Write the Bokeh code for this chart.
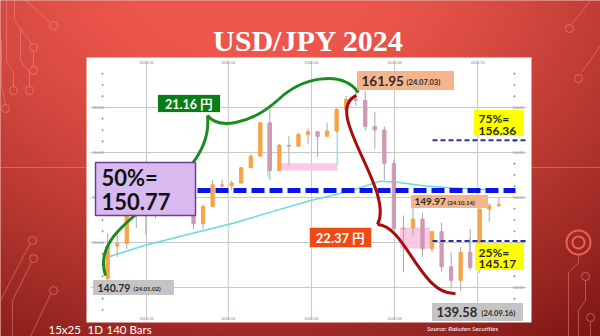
import numpy as np
import pandas as pd
from bokeh.plotting import figure
from bokeh.models import Range1d
from bokeh.core.properties import value
from bokeh.embed import file_html
from bokeh.resources import INLINE

# ---------------- data (weekly USD/JPY 2024) ----------------
WEEK_STARTS = pd.date_range("2024-01-01", periods=42, freq="7D")
OPEN = [141.0, 144.6, 144.9, 148.1, 148.1, 148.4, 149.3, 150.2, 150.5, 150.1, 147.1, 149.0, 151.4, 151.3,
        151.6, 153.3, 154.6, 158.3, 153.0, 155.8, 155.7, 157.0, 157.3, 156.8, 157.4, 159.8, 160.9, 160.8,
        157.9, 157.5, 153.8, 146.5, 146.6, 147.6, 144.3, 146.2, 142.3, 140.8, 143.9, 142.2, 148.7, 149.1]
HIGH = [145.98, 146.4, 148.8, 148.7, 148.6, 149.6, 150.9, 150.8, 150.8, 150.6, 149.2, 151.9, 151.97, 151.9,
        153.4, 154.8, 158.4, 160.2, 155.95, 156.8, 157.2, 157.7, 157.3, 158.3, 159.9, 161.3, 161.95, 161.8,
        159.5, 157.9, 154.2, 148.0, 149.4, 148.3, 146.3, 147.2, 143.9, 144.5, 146.5, 149.0, 149.4, 149.97]
LOW = [140.81, 143.4, 144.3, 146.6, 145.9, 147.6, 149.2, 149.6, 149.2, 146.5, 146.5, 148.9, 150.8, 150.8,
       151.6, 153.6, 154.5, 151.9, 152.9, 153.6, 155.6, 155.9, 154.5, 156.8, 157.2, 159.2, 160.2, 157.4,
       155.4, 151.9, 146.4, 141.7, 145.8, 143.4, 143.9, 141.8, 139.9, 139.58, 141.9, 141.6, 147.3, 148.9]
CLOSE = [144.6, 144.9, 148.1, 148.1, 148.4, 149.3, 150.2, 150.5, 150.1, 147.1, 149.0, 151.4, 151.3, 151.6,
         153.3, 154.6, 158.3, 153.0, 155.8, 155.7, 157.0, 157.3, 156.8, 157.4, 159.8, 160.9, 160.8, 157.9,
         157.5, 153.8, 146.5, 146.6, 147.6, 144.3, 146.2, 142.3, 140.8, 143.9, 142.2, 148.7, 149.1, 149.2]

MA_DATES = ["2024-01-02", "2024-01-31", "2024-02-29", "2024-04-06", "2024-05-07", "2024-06-01",
            "2024-06-27", "2024-07-21", "2024-08-03", "2024-08-22", "2024-09-08", "2024-10-03", "2024-10-15"]
MA_VALUES = [143.3, 144.7, 145.8, 147.2, 148.6, 149.7, 150.6, 151.8, 151.7, 151.3, 151.1, 150.9, 150.9]

PRICE_GRID = [140, 145, 150, 155, 160]
DATE_GRID = ["2024-02-01", "2024-04-01", "2024-06-01", "2024-08-01", "2024-10-01"]
DATE_LABELS = ["2024/02", "2024/04", "2024/06", "2024/08", "2024/10"]

LOW_START, HIGH_PEAK, LOW_SEP = 140.79, 161.95, 139.58
LEVEL_25, LEVEL_50, LEVEL_75 = 145.17, 150.77, 156.36
RISE, FALL = "21.16 円", "22.37 円"
LAST_LABEL_PRICE = 149.97

ZONES = [("2024-05-07", "2024-06-20", 153.0, 153.8), ("2024-08-05", "2024-08-27", 144.33, 146.67)]
SIGNALS = [("2024-04-30", 152.3, 158.2), ("2024-06-20", 153.6, 158.5), ("2024-09-25", 142.5, 145.5)]

# ---------------- pixel helpers (layout only) ----------------
DAY = 86400000
T0 = pd.Timestamp("2024-01-01").value // 10**6


def X(px):
    return T0 + (31 + (px - 146) / 1.363) * DAY


def Y(py):
    return 150 + (197 - py) / 9.0


def ms(d):
    return pd.Timestamp(d).value // 10**6


p = figure(width=600, height=336, x_range=Range1d(X(0), X(600)), y_range=Range1d(Y(336), Y(0)),
           x_axis_location=None, y_axis_location=None, toolbar_location=None,
           output_backend="svg", min_border=0, outline_line_color=None,
           background_fill_color="#c93a32", border_fill_color="#c93a32")
p.min_border_left = p.min_border_right = p.min_border_top = p.min_border_bottom = 0
p.xgrid.grid_line_color = None
p.ygrid.grid_line_color = None

# background gradient
H, W = 168, 300
yy, xx = np.mgrid[0:H, 0:W]
pxx = (xx + 0.5) * 2
pyy = (yy + 0.5) * 2
d = np.sqrt((0.8 * (pxx - 250)) ** 2 + (pyy + 50) ** 2)
t = np.clip((d - 110) / 380, 0, 1) ** 1.3
bright = np.array([236, 86, 76])
dark = np.array([118, 18, 16])
rgb = bright[None, None, :] * (1 - t[..., None]) + dark[None, None, :] * t[..., None]
img = np.zeros((H, W, 4), dtype=np.uint8)
img[..., :3] = rgb.astype(np.uint8)
img[..., 3] = 255
img = np.flipud(img).copy()
p.image_rgba(image=[img.view(np.uint32).reshape(H, W)], x=X(0), y=Y(336), dw=X(600) - X(0), dh=Y(0) - Y(336))

# decorative circuit lines
deco = "#f59a90"
lines = [
    [(25, 0), (49, 21)], [(14, 0), (14, 20), (31, 43)], [(33, 51), (33, 66)],
    [(6, 0), (6, 60), (13, 72), (13, 86)], [(20, 28), (20, 60), (29, 72), (29, 86)],
    [(1, 40), (1, 85), (5, 104)],
    [(0, 300), (29, 244)], [(12, 336), (12, 300), (31, 262)], [(30, 336), (50, 294)],
    [(0, 167), (86, 167)], [(531, 167), (600, 167)],
    [(600, 45), (581, 72)], [(590, 0), (572, 23)],
    [(578, 254), (578, 262), (568, 272), (568, 336)],
    [(585, 280), (585, 300), (578, 310), (578, 336)], [(590, 321), (590, 336)],
]
p.multi_line(xs=[[X(a) for a, b in ln] for ln in lines], ys=[[Y(b) for a, b in ln] for ln in lines],
             line_color=deco, line_alpha=0.45, line_width=1)
circ = [(53, 25), (33, 47), (33, 70), (13, 90), (29, 90), (5, 108), (32, 240), (33, 258), (53, 290),
        (578, 78), (569, 28), (585, 276), (590, 317)]
p.scatter(x=[X(a) for a, b in circ], y=[Y(b) for a, b in circ], size=8, marker="circle",
          fill_color=None, line_color=deco, line_alpha=0.5, line_width=1)
p.scatter(x=[X(578)] * 2, y=[Y(242)] * 2, size=[24, 12], marker="circle", fill_color=None,
          line_color="#e8615a", line_width=2)

# white chart panel
p.quad(left=X(86), right=X(531), top=Y(57), bottom=Y(322), fill_color="white", line_color=None)

# grid
p.segment(x0=X(90), x1=X(526), y0=PRICE_GRID, y1=PRICE_GRID, line_color="#c8c8c8", line_width=1)
gx = [ms(dd) for dd in DATE_GRID]
p.segment(x0=gx, x1=gx, y0=Y(60), y1=Y(319), line_color="#c8c8c8", line_width=1)
tiny = dict(text_font=value("Lato"), text_font_size="3.6px", text_color="#888888", text_baseline="middle")
plabels = ["%.2f" % v for v in PRICE_GRID]
p.text(x=X(92), y=PRICE_GRID, text=plabels, text_align="left", **tiny)
p.text(x=X(512), y=PRICE_GRID, text=plabels, text_align="left", **tiny)
p.text(x=gx, y=Y(61.5), text=DATE_LABELS, text_align="center", **tiny)
p.text(x=gx, y=Y(317.5), text=DATE_LABELS, text_align="center", **tiny)
minor = [v for v in np.arange(137.5, 164.9, 1.25) if v not in PRICE_GRID]
p.scatter(x=[X(102)] * len(minor) + [X(514)] * len(minor), y=minor + minor, size=1.3,
          color="#9a9a9a", marker="circle")

# zones
for z0, z1, lo, hi in ZONES:
    p.quad(left=ms(z0), right=ms(z1), bottom=lo, top=hi, fill_color="#f8bfe0", fill_alpha=0.85, line_color=None)

# moving average
p.line(x=[ms(dd) for dd in MA_DATES], y=MA_VALUES, line_color="#66dcdc", line_width=1.5)

# signal markers
sx = [ms(s[0]) for s in SIGNALS]
p.segment(x0=sx, x1=sx, y0=[s[1] for s in SIGNALS], y1=[s[2] for s in SIGNALS],
          line_color="#8ee6ea", line_width=1.5)

# candles
cx = WEEK_STARTS.asi8 // 10**6 + 2.5 * DAY
o = np.array(OPEN)
c = np.array(CLOSE)
inc = c >= o
colors = np.where(inc, "#f5a447", "#cf98b4")
p.segment(x0=cx, x1=cx, y0=LOW, y1=HIGH, line_color="#a8a8a8", line_width=1)
p.vbar(x=cx, width=2.4 * DAY, top=np.maximum(o, c), bottom=np.minimum(o, c),
       fill_color=colors, line_color=colors)

# level lines
p.segment(x0=X(197), x1=X(515), y0=LEVEL_50, y1=LEVEL_50, line_color="#0a16e8", line_width=5, line_dash="13 5")
p.segment(x0=X(432), x1=X(525), y0=[LEVEL_75, LEVEL_25], y1=[LEVEL_75, LEVEL_25],
          line_color="#25309e", line_width=2, line_dash="5 3")

# braces
p.bezier(x0=X(105), y0=Y(275), cx0=X(85), cy0=Y(215), cx1=X(215), cy1=Y(190), x1=X(207), y1=Y(115),
         line_color="#1b8c1f", line_width=3)
p.bezier(x0=X(207), y0=Y(115), cx0=X(217), cy0=Y(128), cx1=X(248), cy1=Y(126), x1=X(278), y1=Y(99),
         line_color="#1b8c1f", line_width=3)
p.bezier(x0=X(278), y0=Y(99), cx0=X(300), cy0=Y(78), cx1=X(340), cy1=Y(68), x1=X(358), y1=Y(92),
         line_color="#1b8c1f", line_width=3)
p.bezier(x0=X(356), y0=Y(95), cx0=X(320), cy0=Y(110), cx1=X(395), cy1=Y(190), x1=X(377), y1=Y(224),
         line_color="#a80d0d", line_width=3)
p.bezier(x0=X(377), y0=Y(224), cx0=X(405), cy0=Y(225), cx1=X(420), cy1=Y(295), x1=X(455), y1=Y(293),
         line_color="#a80d0d", line_width=3)


def box(l, t_, r, b, fill, line=None, lw=1):
    p.quad(left=X(l), right=X(r), top=Y(t_), bottom=Y(b), fill_color=fill,
           line_color=line if line else fill, line_width=lw)


def txt(px, py, s, size, color="#2b2b2b", align="left", style="bold", font="Lato"):
    p.text(x=[X(px)], y=[Y(py)], text=[s], text_font=value(font), text_font_size=size,
           text_color=color, text_align=align, text_baseline="middle", text_font_style=style)


# annotation boxes
box(157, 94, 220, 112, "#0b7d17", "#e6f2e6")
txt(188.5, 103.5, RISE, "12.5px", "white", "center")

box(95, 162, 195, 215, "#d8baf1", "#6f3d8f", 1.5)
txt(101, 177, "50%=", "22px", "#111111")
txt(101, 201, "%.2f" % LEVEL_50, "22px", "#111111")

box(357, 71, 453, 89, "#f6b48c")
txt(361, 80.5, "%.2f" % HIGH_PEAK, "13.5px")
txt(406, 81.5, "(24.07.03)", "7.5px")

box(411, 195, 487, 207, "#f6b48c")
txt(414, 201, "%.2f" % LAST_LABEL_PRICE, "10px")
txt(447, 202, "(24.10.14)", "6px")

box(309, 227, 371, 247, "#ee4a14", "#f7d0c0")
txt(340, 237.5, FALL, "13px", "white", "center")

box(474, 110, 523, 135, "#ffff00")
txt(478, 118, "75%=", "12px")
txt(478, 130, "%.2f" % LEVEL_75, "12px")

box(475, 243, 523, 269, "#ffff00")
txt(478, 252, "25%=", "12px")
txt(478, 263, "%.2f" % LEVEL_25, "12px")

box(93, 280, 173, 294, "#c4c4c4")
txt(97, 287, "%.2f" % LOW_START, "10.5px")
txt(133, 288, "(24.01.02)", "6px")

box(432, 303, 522, 320, "#c4c4c4")
txt(436, 311.5, "%.2f" % LOW_SEP, "13px")
txt(481, 312.5, "(24.09.16)", "7.5px")

# slide texts
p.text(x=[X(308)], y=[Y(40)], text=["USD/JPY 2024"], text_font=value("Liberation Serif"),
       text_font_size="30px", text_font_style="bold", text_color="white",
       text_align="center", text_baseline="alphabetic")
txt(48, 328.5, "15x25", "11.5px", "white", style="normal")
txt(87, 328.5, "1D", "11.5px", "white", style="normal")
txt(106, 328.5, "140 Bars", "11.5px", "white", style="normal")
txt(462, 327.5, "Source: Rakuten Securities", "6.5px", "white", "center", style="italic")

open("out.html", "w").write(file_html(p, INLINE))
